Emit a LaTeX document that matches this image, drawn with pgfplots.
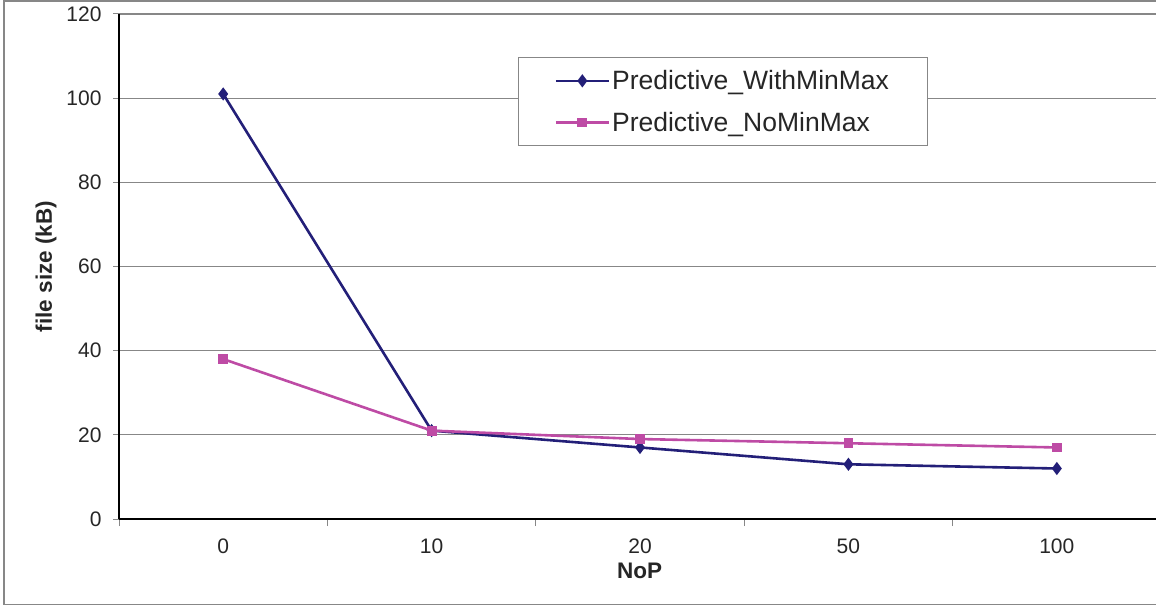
\documentclass[border=0pt]{standalone}
\usepackage{pgfplots}
\pgfplotsset{compat=1.18}
\usepackage{fontspec}
\setmainfont{Liberation Sans}
\definecolor{navyline}{RGB}{35,31,120}
\definecolor{pinkline}{RGB}{190,75,165}
\definecolor{gridgray}{RGB}{135,135,135}
\begin{document}
\begin{tikzpicture}
\useasboundingbox (0pt,0pt) rectangle (1156pt,606pt);
\draw[gridgray, line width=1.3pt] (4pt,1.5pt) rectangle (1170pt,605pt);
\begin{axis}[
  at={(119pt,87pt)}, anchor=south west,
  scale only axis, width=1037pt, height=505pt,
  xmin=-0.5, xmax=4.476, ymin=0, ymax=120,
  xtick={0,1,2,3,4}, xticklabels={0,10,20,50,100},
  minor xtick={-0.5,0.5,1.5,2.5,3.5},
  major x tick style={draw=none},
  minor x tick style={gridgray, line width=1pt},
  ytick={0,20,...,120},
  major y tick style={gridgray, line width=1pt},
  tick align=outside,
  major tick length=6pt, minor tick length=7pt,
  ymajorgrids,
  grid style={gridgray, line width=1.3pt},
  axis x line*=bottom, axis y line*=left,
  axis line style={black, line width=1.3pt},
  /pgf/number format/assume math mode=true,
  tick label style={font=\fontsize{21}{24}\selectfont, text=black!85},
  yticklabel style={xshift=-8pt},
  xticklabel style={yshift=-10pt},
  xlabel={\textbf{NoP}},
  ylabel={\textbf{file size (kB)}},
  label style={font=\fontsize{22.5}{26}\selectfont, text=black!85},
  xlabel style={at={(axis description cs:0.502,0)}, anchor=center, yshift=-52pt},
  ylabel style={at={(axis description cs:0,0.5)}, anchor=center, xshift=0pt, yshift=73pt},
  legend style={at={(axis description cs:0.3848,0.9149)}, anchor=north west,
    draw=gridgray, line width=1pt, font=\fontsize{26.5}{30}\selectfont,
    inner xsep=36pt, inner ysep=11pt, row sep=17pt, text=black!85,
    cells={anchor=west}},
  legend image code/.code={\draw[mark repeat=2,mark phase=2,#1] plot coordinates {(0pt,0pt) (26.5pt,0pt) (53pt,0pt)};},
]
\addplot[navyline, line width=2.6pt, mark=diamond*, mark size=4.5pt, mark options={solid}]
  coordinates {(0,101) (1,21) (2,17) (3,13) (4,12)};
\addlegendentry{Predictive\_WithMinMax}
\addplot[pinkline, line width=2.6pt, mark=square*, mark size=3.6pt, mark options={solid}]
  coordinates {(0,38) (1,21) (2,19) (3,18) (4,17)};
\addlegendentry{Predictive\_NoMinMax}
\end{axis}
\end{tikzpicture}
\end{document}
